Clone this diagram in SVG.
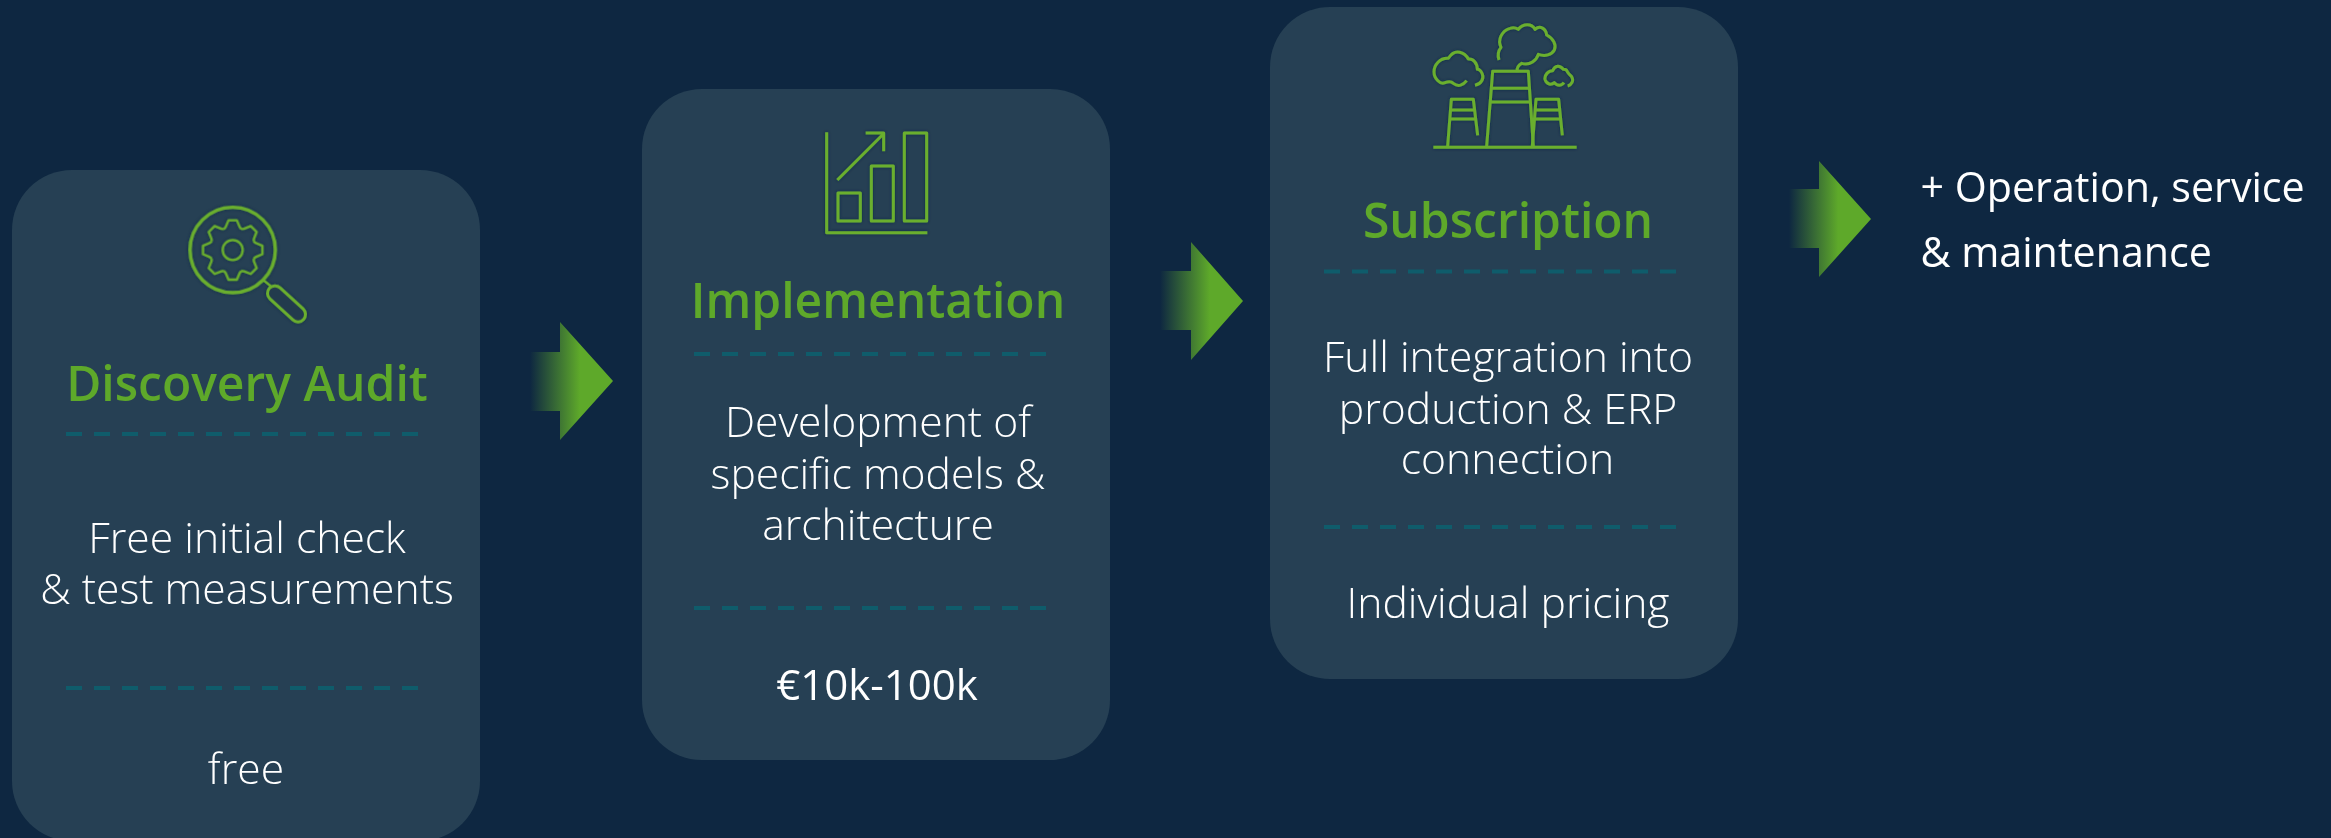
<svg xmlns="http://www.w3.org/2000/svg" xmlns:xlink="http://www.w3.org/1999/xlink" width="2331" height="838" viewBox="0 0 2331 838">
<style>
.card{fill:#264054}
.title{font-family:"Open Sans","Noto Sans",sans-serif;font-weight:600;font-size:48px;fill:#5EA92A;text-anchor:middle}
.body{font-family:"Open Sans","Noto Sans",sans-serif;font-weight:300;font-size:42.67px;fill:#fff;text-anchor:middle}
.reg{font-weight:400;font-size:42px}
.side{font-family:"Open Sans","Noto Sans",sans-serif;font-weight:400;font-size:41.2px;fill:#fff}
.dash{stroke:#0F5C6B;stroke-width:4;stroke-dasharray:16 12;fill:none}
.ic{fill:none;stroke:#6AAF2E;stroke-linejoin:round}
</style>
<defs>
<linearGradient id="arrowFill" x1="0" y1="0" x2="1" y2="0">
<stop offset="0" stop-color="#5EA92A" stop-opacity="0"/>
<stop offset="0.6" stop-color="#5EA92A" stop-opacity="1"/>
<stop offset="1" stop-color="#5EA92A"/>
</linearGradient>
<filter id="glow" x="-20%" y="-20%" width="140%" height="140%">
<feDropShadow dx="0" dy="0" stdDeviation="5" flood-color="#0E2741" flood-opacity="0.8"/>
</filter>
<polyline id="tooth" points="-26,-62.8 -21.1,-68.9 -12.5,-89.1 12.5,-89.1 21.1,-68.9 26,-62.8" class="ic" stroke-width="7"/>
</defs>
<rect width="2331" height="838" fill="#0E2741"/>

<g id="connectors">
<path id="arrow1" fill="url(#arrowFill)" d="M530,352H560V322L613,381L560,440V411H530Z"/>
<path id="arrow2" fill="url(#arrowFill)" d="M1160,271H1191V242L1243,301L1191,360V330H1160Z"/>
<path id="arrow3" fill="url(#arrowFill)" d="M1789,189H1819V161L1871,219L1819,277V248H1789Z"/>
</g>

<g id="node-discovery">
<rect class="card" x="12" y="170" width="468" height="671" rx="60"/>
<g filter="url(#glow)" transform="translate(160,190) scale(.33333)">
<circle class="ic" cx="218" cy="180" r="128" stroke-width="10"/>
<circle class="ic" cx="218" cy="180" r="30" stroke-width="7"/>
<g transform="translate(218,180)">
<use href="#tooth"/><use href="#tooth" transform="rotate(45)"/><use href="#tooth" transform="rotate(90)"/><use href="#tooth" transform="rotate(135)"/><use href="#tooth" transform="rotate(180)"/><use href="#tooth" transform="rotate(225)"/><use href="#tooth" transform="rotate(270)"/><use href="#tooth" transform="rotate(315)"/>
</g>
<line class="ic" x1="310" y1="270" x2="332" y2="288" stroke-width="7"/>
<line class="ic" x1="345" y1="310" x2="414" y2="373" stroke-width="54" stroke-linecap="round"/>
<line x1="345" y1="310" x2="414" y2="373" stroke-width="36" stroke-linecap="round" stroke="#243B4E"/>
</g>
<text class="title" x="247" y="401">Discovery Audit</text>
<line class="dash" x1="66" y1="434" x2="418" y2="434"/>
<text class="body" x="247" y="553">Free initial check</text>
<text class="body" x="247" y="604">&amp; test measurements</text>
<line class="dash" x1="66" y1="688" x2="418" y2="688"/>
<text class="body" x="246" y="784">free</text>
</g>

<g id="node-implementation">
<rect class="card" x="642" y="89" width="468" height="671" rx="60"/>
<g filter="url(#glow)" transform="translate(800,110) scale(.33333)">
<path class="ic" stroke-width="9" d="M80,67V368H382"/>
<rect class="ic" stroke-width="9" x="114" y="249" width="67" height="84"/>
<rect class="ic" stroke-width="9" x="214" y="168" width="66" height="165"/>
<rect class="ic" stroke-width="9" x="313" y="69" width="67" height="264"/>
<path class="ic" stroke-width="9" d="M112,210L250,72M197,69H251V124"/>
</g>
<text class="title" x="878" y="318">Implementation</text>
<line class="dash" x1="694" y1="354" x2="1046" y2="354"/>
<text class="body" x="878" y="437">Development of</text>
<text class="body" x="878" y="489">specific models &amp;</text>
<text class="body" x="878" y="539.500">architecture</text>
<line class="dash" x1="694" y1="608" x2="1046" y2="608"/>
<text class="body reg" x="877" y="700">€10k-100k</text>
</g>

<g id="node-subscription">
<rect class="card" x="1270" y="7" width="468" height="672" rx="60"/>
<g filter="url(#glow)" transform="translate(1420,10) scale(.33333)">
<path class="ic" stroke-width="9" d="M40,412H470"/>
<path class="ic" stroke-width="9" d="M200,408L218,184H325L340,408M213,235H328M208,276H333"/>
<path class="ic" stroke-width="9" d="M83,408L94,268H160L173,376M90,300H165M88,327H168"/>
<path class="ic" stroke-width="9" d="M337,408L348,268H416L427,376M344,300H420M340,327H423"/>
<path class="ic" stroke-width="9" d="M165,226C185,222 192,205 187,192C182,180 176,178 172,178C172,160 160,145 145,147C135,128 105,112 85,145C60,143 42,165 42,185C42,205 60,225 75,218C90,212 95,215 100,220C115,232 130,225 140,212"/>
<path class="ic" stroke-width="9" d="M237,150C232,135 235,122 243,112C232,90 245,62 270,55C285,50 290,55 295,58C310,40 335,40 345,58C360,45 378,55 380,75C400,85 410,105 403,120C395,135 375,140 355,133C350,150 330,168 305,160C295,165 290,175 292,182"/>
<path class="ic" stroke-width="9" d="M443,228C455,225 462,212 455,200C450,195 445,190 442,185C440,178 432,178 430,178C420,165 405,165 398,182C385,182 373,195 375,208C380,225 395,225 403,218C410,228 425,228 432,218"/>
</g>
<text class="title" x="1508" y="237.500">Subscription</text>
<line class="dash" x1="1324" y1="271.500" x2="1676" y2="271.500"/>
<text class="body" x="1508" y="372">Full integration into</text>
<text class="body" x="1508" y="424">production &amp; ERP</text>
<text class="body" x="1507.500" y="474">connection</text>
<line class="dash" x1="1324" y1="527" x2="1676" y2="527"/>
<text class="body" x="1508" y="618">Individual pricing</text>
</g>

<g id="node-operation">
<text class="side" x="1920.500" y="202">+ Operation, service</text>
<text class="side" x="1920.500" y="267">&amp; maintenance</text>
</g>
</svg>
